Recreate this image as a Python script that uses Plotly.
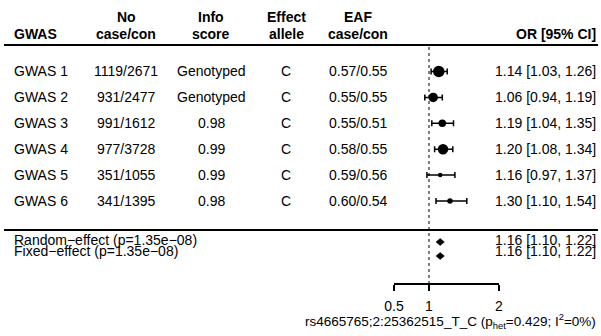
import plotly.graph_objects as go

# ---------------- data ----------------
gwas = ["GWAS 1", "GWAS 2", "GWAS 3", "GWAS 4", "GWAS 5", "GWAS 6"]
n_case_con = ["1119/2671", "931/2477", "991/1612", "977/3728", "351/1055", "341/1395"]
info_score = ["Genotyped", "Genotyped", "0.98", "0.99", "0.99", "0.98"]
effect_allele = ["C", "C", "C", "C", "C", "C"]
eaf_case_con = ["0.57/0.55", "0.55/0.55", "0.55/0.51", "0.58/0.55", "0.59/0.56", "0.60/0.54"]
or_est = [1.14, 1.06, 1.19, 1.20, 1.16, 1.30]
ci_lo = [1.03, 0.94, 1.04, 1.08, 0.97, 1.10]
ci_hi = [1.26, 1.19, 1.35, 1.34, 1.37, 1.54]

summary_labels = ["Random\u2212effect (p=1.35e\u221208)", "Fixed\u2212effect (p=1.35e\u221208)"]
summary_est = [1.16, 1.16]
summary_lo = [1.10, 1.10]
summary_hi = [1.22, 1.22]

tick_vals = [0.5, 1, 2]
tick_text = ["0.5", "1", "2"]
x_title = "rs4665765;2:25362515_T_C (p<sub>het</sub>=0.429; I<sup>2</sup>=0%)"

headers = [("GWAS", None), ("No", "case/con"), ("Info", "score"),
           ("Effect", "allele"), ("EAF", "case/con")]

# ---------------- layout / style ----------------
W, H = 601, 336
FONT = "Liberation Sans, Arial, sans-serif"
FS = 14
box_px = [11.5, 9.5, 7.5, 10.5, 4.5, 5.5]          # marker diameters (style)
row_y = [71.5 + 25.9 * i for i in range(len(gwas))]   # pixel rows
sum_text_y = [240, 250.5]
sum_mark_y = [242, 256]
axis_y = 284

def px(x):
    return x / W

fig = go.Figure()

# study estimates with CIs
fig.add_trace(go.Scatter(
    x=or_est, y=row_y, mode="markers",
    marker=dict(symbol="circle", size=box_px, color="#000000", opacity=1,
                line=dict(width=0)),
    error_x=dict(type="data", symmetric=False,
                 array=[h - e for h, e in zip(ci_hi, or_est)],
                 arrayminus=[e - l for e, l in zip(or_est, ci_lo)],
                 color="#000000", thickness=1.5, width=3),
    hoverinfo="skip", showlegend=False, cliponaxis=False,
))

# summary diamonds
hh = 3.5
for est, lo, hi, yc in zip(summary_est, summary_lo, summary_hi, sum_mark_y):
    fig.add_trace(go.Scatter(
        x=[lo, est, hi, est, lo], y=[yc, yc - hh, yc, yc + hh, yc],
        mode="lines", fill="toself", fillcolor="#000000",
        line=dict(color="#000000", width=0.5),
        hoverinfo="skip", showlegend=False,
    ))

# reference dotted line at OR = 1
fig.add_shape(type="line", xref="x", yref="y", x0=1, x1=1, y0=47, y1=axis_y,
              line=dict(color="black", width=1, dash="dot"), layer="below")

# horizontal rules
for yy in (45, 230):
    fig.add_shape(type="line", xref="paper", yref="y", x0=px(4), x1=px(598),
                  y0=yy, y1=yy, line=dict(color="black", width=1.8))

ann = []
def text(x, y, s, anchor="center", bold=False, size=FS):
    ann.append(dict(x=px(x), y=y, xref="paper", yref="y",
                    text=("<b>" + s + "</b>") if bold else s,
                    showarrow=False, xanchor=anchor, yanchor="middle",
                    align=anchor, borderpad=0,
                    font=dict(family=FONT, size=size, color="black")))

col_x = [13, 126, 211, 286, 358]
col_anchor = ["left", "center", "center", "center", "center"]

# header
for (l1, l2), cx, ca in zip(headers, col_x, col_anchor):
    if l2 is None:
        text(cx, 33.5, l1, ca, bold=True)
    else:
        text(cx, 16.5, l1, ca, bold=True)
        text(cx, 33.5, l2, ca, bold=True)
text(597, 33.5, "OR [95% CI]", "right", bold=True)

# body
for i, y in enumerate(row_y):
    cols = [gwas[i], n_case_con[i], info_score[i], effect_allele[i], eaf_case_con[i]]
    for s, cx, ca in zip(cols, col_x, col_anchor):
        text(cx, y - 0.5, s, ca)
    text(597, y - 0.5, f"{or_est[i]:.2f} [{ci_lo[i]:.2f}, {ci_hi[i]:.2f}]", "right")

# summary rows
for lab, est, lo, hi, y in zip(summary_labels, summary_est, summary_lo, summary_hi, sum_text_y):
    text(13, y, lab, "left")
    text(597, y, f"{est:.2f} [{lo:.2f}, {hi:.2f}]", "right")

# x-axis title
text(597, 321, x_title, "right", size=13.5)

fig.update_layout(
    width=W, height=H,
    margin=dict(l=0, r=0, t=0, b=0, autoexpand=False),
    paper_bgcolor="white", plot_bgcolor="white",
    annotations=ann,
    xaxis=dict(domain=[394 / W, 499 / W], range=[0.5, 2],
               anchor="free", position=(H - axis_y) / H,
               showline=True, linecolor="black", linewidth=1.5,
               ticks="outside", ticklen=6, tickwidth=1.5, tickcolor="black",
               tickvals=tick_vals, ticktext=tick_text,
               tickfont=dict(family=FONT, size=FS, color="black"),
               ticklabelstandoff=3, automargin=False,
               showgrid=False, zeroline=False, fixedrange=True),
    yaxis=dict(domain=[0, 1], range=[H, 0], visible=False, automargin=False,
               showgrid=False, zeroline=False, fixedrange=True),
)

fig.write_html("out.html", config={"displayModeBar": False},
               post_script="document.body.style.margin='0';document.body.style.overflow='hidden';")
